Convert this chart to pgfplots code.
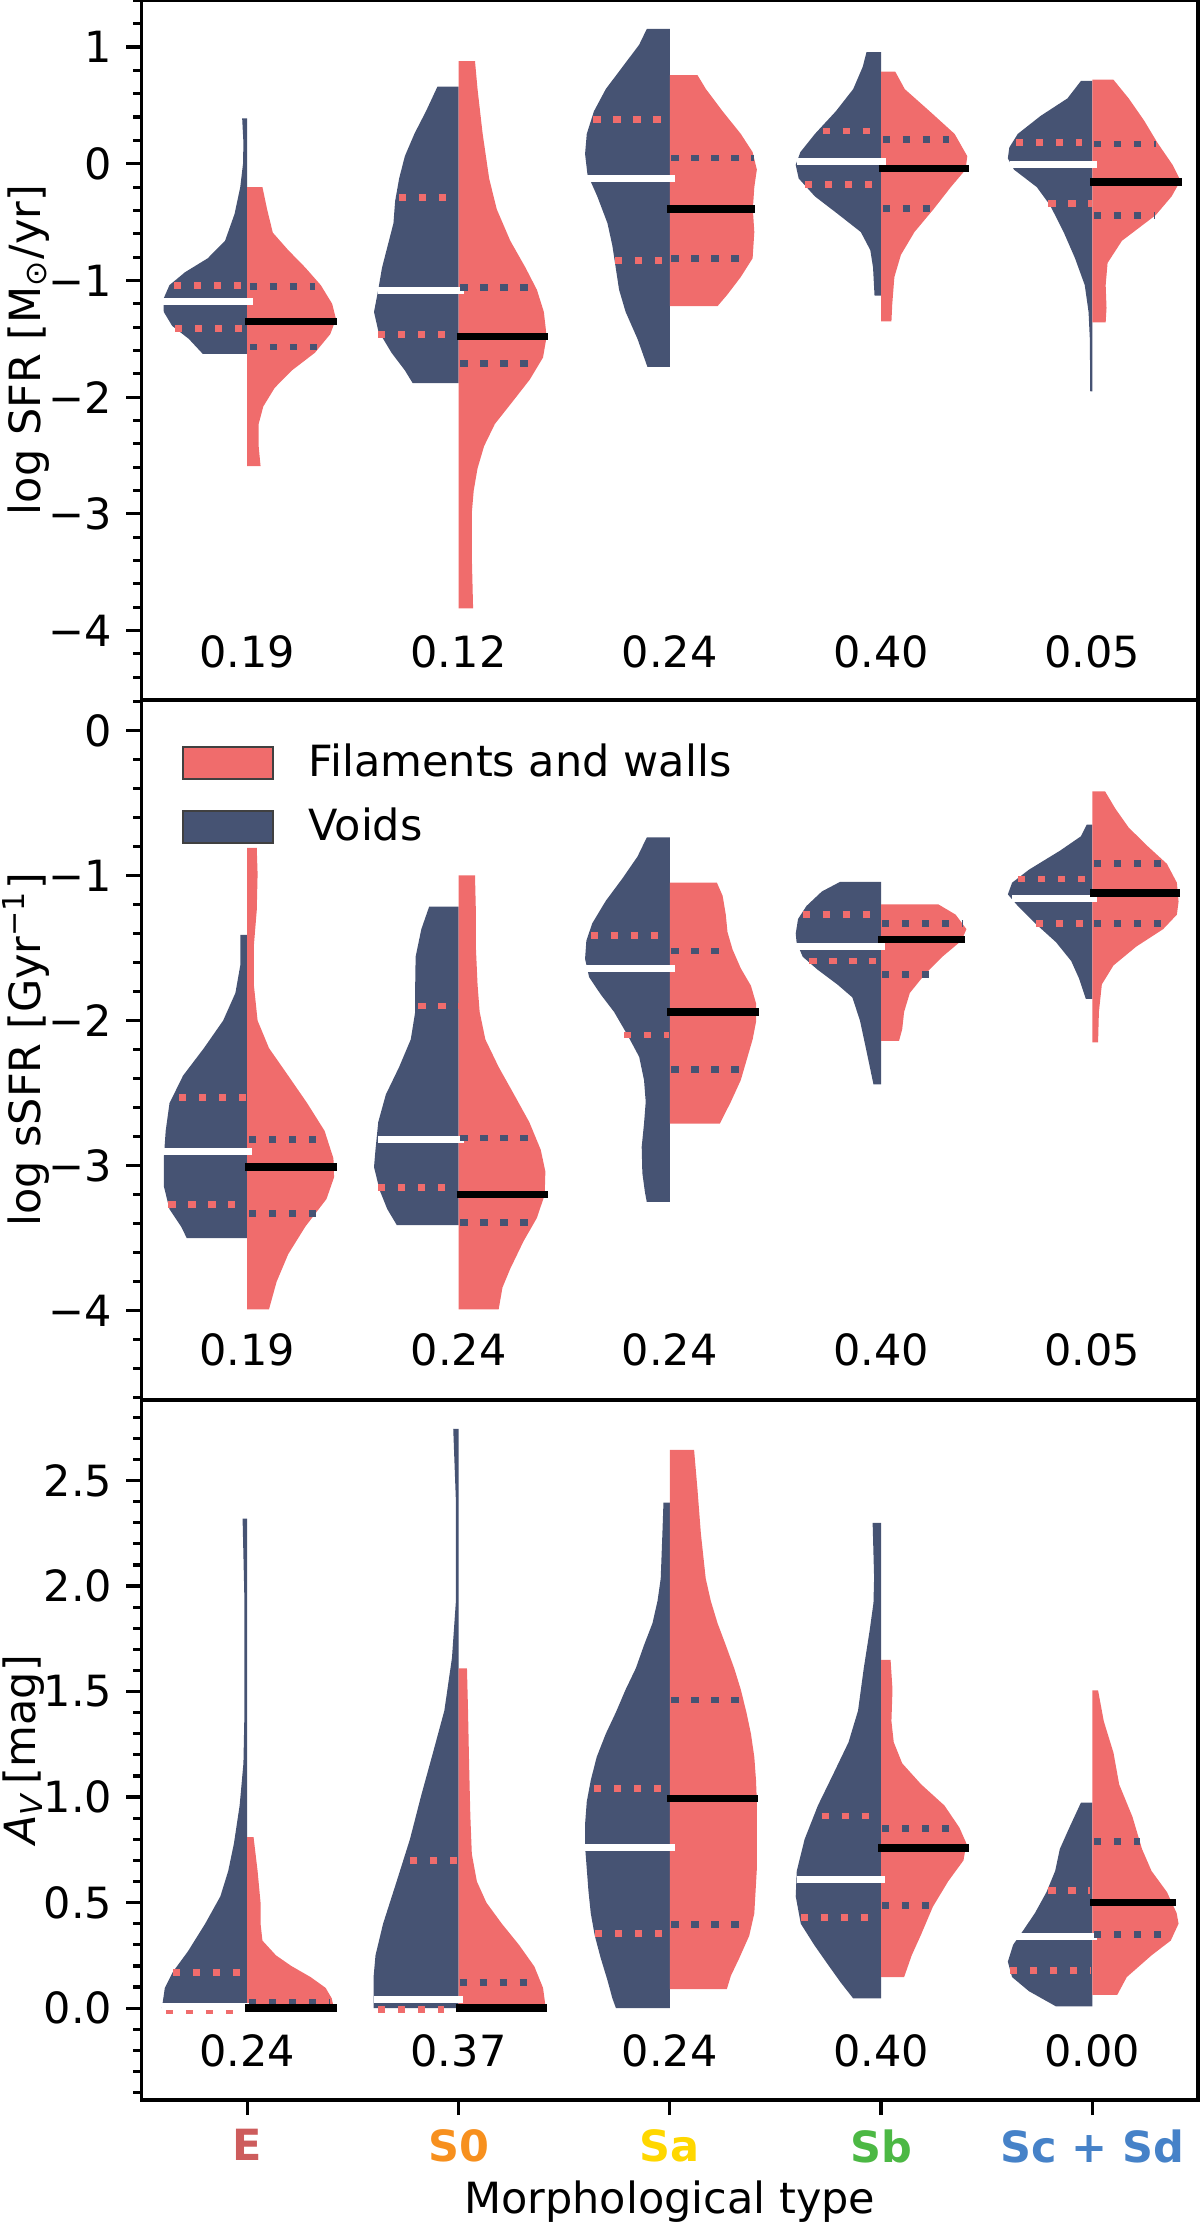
\documentclass[border=0pt]{standalone}
\usepackage{fontspec}
\setmainfont{DejaVu Sans}
\usepackage{pgfplots}
\usepackage{pgfplotstable}
\pgfplotsset{compat=1.18}

\definecolor{voidcol}{HTML}{465373}
\definecolor{filcol}{HTML}{F06C6C}
\definecolor{colE}{HTML}{CD5C5C}
\definecolor{colSO}{HTML}{F7901E}
\definecolor{colSa}{HTML}{FFD700}
\definecolor{colSb}{HTML}{4CB844}
\definecolor{colSc}{HTML}{4682C8}
\newcommand{\fs}{\fontsize{10.75}{12.9}\selectfont}

% ---------- half-violin outlines: y value and half width w ----------
% log SFR
\pgfplotstableread{
y w
0.39 0
0.39 0.024
0.18 0.018
0.00 0.02
-0.20 0.033
-0.43 0.06
-0.66 0.105
-0.81 0.187
-0.93 0.295
-1.04 0.368
-1.16 0.397
-1.27 0.395
-1.39 0.355
-1.50 0.277
-1.63 0.21
-1.63 0
}\sfrEv
\pgfplotstableread{
y w
-0.20 0
-0.20 0.072
-0.39 0.094
-0.59 0.121
-0.74 0.194
-0.89 0.275
-1.04 0.348
-1.20 0.402
-1.33 0.42
-1.46 0.393
-1.62 0.32
-1.77 0.212
-1.92 0.13
-2.08 0.076
-2.23 0.054
-2.42 0.054
-2.59 0.063
-2.59 0
}\sfrEf
\pgfplotstableread{
y w
0.66 0
0.66 0.10
0.45 0.154
0.26 0.208
0.065 0.254
-0.126 0.281
-0.32 0.30
-0.51 0.308
-0.70 0.335
-0.89 0.362
-1.08 0.38
-1.27 0.40
-1.43 0.38
-1.62 0.317
-1.77 0.254
-1.88 0.217
-1.88 0
}\sfrSOv
\pgfplotstableread{
y w
0.88 0
0.88 0.078
0.64 0.09
0.26 0.114
-0.126 0.145
-0.39 0.181
-0.66 0.245
-0.89 0.317
-1.08 0.371
-1.27 0.404
-1.48 0.417
-1.66 0.40
-1.85 0.337
-2.04 0.255
-2.23 0.172
-2.42 0.121
-2.61 0.09
-2.80 0.072
-2.99 0.063
-3.37 0.063
-3.81 0.069
-3.81 0
}\sfrSOf
\pgfplotstableread{
y w
1.155 0
1.155 0.109
1.02 0.145
0.83 0.224
0.64 0.303
0.45 0.359
0.256 0.393
0.084 0.401
-0.088 0.39
-0.28 0.343
-0.51 0.295
-0.70 0.272
-0.89 0.256
-1.08 0.24
-1.27 0.209
-1.50 0.153
-1.74 0.106
-1.74 0
}\sfrSav
\pgfplotstableread{
y w
0.76 0
0.76 0.131
0.64 0.171
0.45 0.25
0.256 0.336
0.10 0.392
-0.05 0.412
-0.20 0.40
-0.39 0.393
-0.585 0.40
-0.81 0.392
-0.97 0.336
-1.12 0.273
-1.22 0.226
-1.22 0
}\sfrSaf
\pgfplotstableread{
y w
0.956 0
0.956 0.069
0.83 0.087
0.64 0.132
0.45 0.214
0.256 0.313
0.10 0.382
-0.01 0.404
-0.126 0.39
-0.28 0.313
-0.43 0.205
-0.585 0.096
-0.74 0.051
-0.89 0.038
-1.13 0.031
-1.13 0
}\sfrSbv
\pgfplotstableread{
y w
0.79 0
0.79 0.067
0.64 0.112
0.45 0.23
0.256 0.348
0.065 0.408
-0.05 0.40
-0.20 0.33
-0.39 0.248
-0.585 0.158
-0.78 0.094
-0.97 0.063
-1.20 0.053
-1.35 0.049
-1.35 0
}\sfrSbf
\pgfplotstableread{
y w
0.71 0
0.71 0.054
0.56 0.118
0.41 0.245
0.256 0.353
0.14 0.393
0.046 0.40
-0.05 0.371
-0.20 0.263
-0.356 0.20
-0.585 0.136
-0.81 0.082
-1.04 0.036
-1.27 0.018
-1.50 0.012
-1.95 0.010
-1.95 0
}\sfrScv
\pgfplotstableread{
y w
0.72 0
0.72 0.10
0.56 0.172
0.37 0.245
0.18 0.308
-0.01 0.38
-0.145 0.417
-0.28 0.375
-0.44 0.30
-0.55 0.22
-0.66 0.14
-0.85 0.072
-1.04 0.063
-1.235 0.067
-1.36 0.063
-1.36 0
}\sfrScf
% log sSFR
\pgfplotstableread{
y w
-1.41 0
-1.41 0.033
-1.62 0.033
-1.81 0.056
-2.00 0.114
-2.19 0.205
-2.38 0.304
-2.57 0.368
-2.76 0.386
-2.95 0.395
-3.14 0.395
-3.30 0.368
-3.42 0.313
-3.50 0.286
-3.50 0
}\ssfrEv
\pgfplotstableread{
y w
-0.81 0
-0.81 0.045
-0.99 0.049
-1.24 0.045
-1.49 0.031
-1.75 0.031
-2.00 0.049
-2.19 0.103
-2.38 0.194
-2.57 0.284
-2.76 0.366
-2.95 0.408
-3.08 0.411
-3.23 0.375
-3.42 0.275
-3.61 0.194
-3.80 0.139
-3.99 0.103
-3.99 0
}\ssfrEf
\pgfplotstableread{
y w
-1.215 0
-1.215 0.139
-1.37 0.176
-1.56 0.203
-1.75 0.205
-1.94 0.205
-2.13 0.226
-2.32 0.281
-2.51 0.344
-2.70 0.38
-2.89 0.393
-3.01 0.40
-3.17 0.373
-3.30 0.337
-3.41 0.292
-3.41 0
}\ssfrSOv
\pgfplotstableread{
y w
-1.00 0
-1.00 0.078
-1.24 0.082
-1.49 0.082
-1.75 0.09
-1.94 0.10
-2.13 0.127
-2.32 0.19
-2.51 0.263
-2.70 0.335
-2.89 0.389
-3.04 0.411
-3.20 0.408
-3.36 0.371
-3.52 0.308
-3.71 0.245
-3.84 0.208
-3.99 0.19
-3.99 0
}\ssfrSOf
\pgfplotstableread{
y w
-0.738 0
-0.738 0.109
-0.87 0.153
-1.02 0.224
-1.175 0.303
-1.33 0.367
-1.45 0.395
-1.575 0.401
-1.70 0.382
-1.82 0.327
-1.94 0.264
-2.10 0.20
-2.25 0.145
-2.41 0.122
-2.56 0.114
-2.71 0.122
-2.87 0.133
-3.05 0.13
-3.18 0.118
-3.25 0.109
-3.25 0
}\ssfrSav
\pgfplotstableread{
y w
-1.05 0
-1.05 0.223
-1.14 0.25
-1.27 0.265
-1.39 0.273
-1.51 0.297
-1.64 0.336
-1.76 0.384
-1.88 0.408
-2.01 0.408
-2.13 0.392
-2.25 0.368
-2.41 0.336
-2.56 0.289
-2.71 0.237
-2.71 0
}\ssfrSaf
\pgfplotstableread{
y w
-1.044 0
-1.044 0.194
-1.11 0.28
-1.21 0.353
-1.30 0.393
-1.40 0.404
-1.46 0.40
-1.56 0.371
-1.65 0.30
-1.75 0.208
-1.84 0.136
-2.00 0.10
-2.19 0.072
-2.44 0.036
-2.44 0
}\ssfrSbv
\pgfplotstableread{
y w
-1.20 0
-1.20 0.272
-1.27 0.353
-1.37 0.404
-1.45 0.38
-1.56 0.29
-1.68 0.208
-1.81 0.136
-1.94 0.109
-2.06 0.10
-2.14 0.085
-2.14 0
}\ssfrSbf
\pgfplotstableread{
y w
-0.65 0
-0.65 0.027
-0.73 0.054
-0.83 0.154
-0.96 0.30
-1.05 0.38
-1.13 0.40
-1.21 0.353
-1.34 0.263
-1.46 0.172
-1.59 0.10
-1.71 0.063
-1.85 0.031
-1.85 0
}\ssfrScv
\pgfplotstableread{
y w
-0.42 0
-0.42 0.06
-0.54 0.109
-0.67 0.172
-0.80 0.263
-0.92 0.353
-1.05 0.40
-1.18 0.408
-1.27 0.40
-1.37 0.335
-1.49 0.208
-1.62 0.10
-1.75 0.045
-1.94 0.031
-2.15 0.027
-2.15 0
}\ssfrScf
% A_V
\pgfplotstableread{
y w
2.32 0
2.32 0.022
1.92 0.013
1.41 0.013
1.16 0.018
0.96 0.036
0.78 0.063
0.65 0.09
0.53 0.127
0.40 0.199
0.27 0.28
0.17 0.353
0.096 0.39
0.0 0.404
0.0 0
}\avEv
\pgfplotstableread{
y w
0.81 0
0.81 0.03
0.65 0.049
0.50 0.063
0.40 0.063
0.32 0.072
0.25 0.136
0.20 0.208
0.147 0.30
0.096 0.371
0.046 0.40
0.0 0.41
0.0 0
}\avEf
\pgfplotstableread{
y w
2.745 0
2.745 0.025
2.42 0.013
1.92 0.013
1.66 0.031
1.41 0.067
1.21 0.121
1.01 0.176
0.80 0.23
0.60 0.293
0.40 0.357
0.25 0.393
0.147 0.402
0.0 0.402
0.0 0
}\avSOv
\pgfplotstableread{
y w
1.61 0
1.61 0.04
1.41 0.045
1.16 0.05
0.91 0.056
0.73 0.063
0.60 0.087
0.50 0.132
0.40 0.205
0.30 0.286
0.197 0.359
0.096 0.40
0.0 0.413
0.0 0
}\avSOf
\pgfplotstableread{
y w
2.395 0
2.395 0.03
2.25 0.035
2.036 0.043
1.93 0.058
1.824 0.082
1.72 0.122
1.61 0.161
1.51 0.209
1.40 0.256
1.30 0.303
1.19 0.346
1.08 0.374
0.978 0.393
0.872 0.401
0.766 0.401
0.66 0.393
0.555 0.385
0.449 0.374
0.343 0.355
0.237 0.327
0.132 0.295
0.047 0.272
0.0 0.255
0.0 0
}\avSav
\pgfplotstableread{
y w
2.645 0
2.645 0.115
2.459 0.131
2.25 0.147
2.036 0.17
1.93 0.194
1.824 0.226
1.72 0.265
1.61 0.305
1.51 0.336
1.40 0.363
1.30 0.384
1.19 0.40
1.08 0.408
0.98 0.412
0.66 0.412
0.449 0.40
0.343 0.376
0.237 0.329
0.153 0.289
0.09 0.27
0.09 0
}\avSaf
\pgfplotstableread{
y w
2.30 0
2.30 0.04
2.04 0.033
1.92 0.036
1.79 0.054
1.61 0.082
1.41 0.109
1.26 0.154
1.11 0.226
0.96 0.299
0.80 0.362
0.65 0.399
0.53 0.404
0.40 0.38
0.30 0.317
0.197 0.245
0.12 0.19
0.046 0.132
0.046 0
}\avSbv
\pgfplotstableread{
y w
1.65 0
1.65 0.045
1.51 0.054
1.36 0.049
1.26 0.06
1.16 0.10
1.06 0.19
0.96 0.30
0.855 0.371
0.78 0.404
0.70 0.39
0.60 0.317
0.48 0.245
0.35 0.19
0.25 0.145
0.147 0.109
0.147 0
}\avSbf
\pgfplotstableread{
y w
0.974 0
0.974 0.054
0.855 0.109
0.754 0.154
0.65 0.176
0.55 0.217
0.45 0.272
0.37 0.326
0.30 0.375
0.22 0.40
0.147 0.38
0.08 0.30
0.008 0.172
0.008 0
}\avScv
\pgfplotstableread{
y w
1.506 0
1.506 0.027
1.36 0.054
1.21 0.10
1.06 0.127
0.906 0.19
0.754 0.235
0.65 0.28
0.55 0.353
0.45 0.399
0.40 0.408
0.32 0.371
0.25 0.28
0.147 0.163
0.063 0.118
0.063 0
}\avScf

% ---------- drawing helpers ----------
% split violin: voids to the left, filaments and walls to the right of position #3
\newcommand{\violin}[3]{%
  \addplot[draw=none, fill=voidcol, forget plot] table[x expr={#3-\thisrow{w}}, y=y]{#1};
  \addplot[draw=none, fill=filcol, forget plot] table[x expr={#3+\thisrow{w}}, y=y]{#2};
}
% quartiles (dotted) and medians (solid): from x=#1 to x=#2 at y=#3
\newcommand{\qv}[3]{\addplot[filcol, line width=1.7pt, dash pattern=on 1.8pt off 3.2pt, forget plot] coordinates {(#1,#3) (#2,#3)};}
\newcommand{\qf}[3]{\addplot[voidcol, line width=1.7pt, dash pattern=on 1.8pt off 3.2pt, forget plot] coordinates {(#1,#3) (#2,#3)};}
\newcommand{\mv}[3]{\addplot[white, line width=1.75pt, forget plot] coordinates {(#1,#3) (#2,#3)};}
\newcommand{\mf}[3]{\addplot[black, line width=1.9pt, forget plot] coordinates {(#1,#3) (#2,#3)};}

\pgfplotsset{
  panel/.style={
    scale only axis, width=264.1pt, height=175pt,
    xmin=-0.5, xmax=4.5,
    axis line style={line width=0.8pt},
    every tick/.style={black, line width=0.8pt},
    major tick length=3.8pt, minor tick length=2.1pt,
    tick align=outside,
    ytick pos=left, xtick pos=bottom,
    tick label style={font=\fs},
    label style={font=\fs},
    ylabel style={at={(axis description cs:-0.096,0.5)}, anchor=base},
  },
}

\begin{document}
\begin{tikzpicture}
\useasboundingbox (0,0) rectangle (300pt,556.75pt);

% ---------------- log SFR ----------------
\begin{axis}[panel, at={(35.4pt,381.75pt)}, anchor=south west,
  ymin=-4.595, ymax=1.4036,
  xtick=\empty,
  ytick={-4,-3,-2,-1,0,1},
  yticklabels={−4,−3,−2,−1,0,1},
  minor ytick={-4.4,-4.2,...,1.3},
  ylabel={log SFR [M\textsubscript{⊙}/yr]},
]
\violin{\sfrEv}{\sfrEf}{0}
\violin{\sfrSOv}{\sfrSOf}{1}
\violin{\sfrSav}{\sfrSaf}{2}
\violin{\sfrSbv}{\sfrSbf}{3}
\violin{\sfrScv}{\sfrScf}{4}
% E
\qv{-0.346}{-0.024}{-1.04} \qv{-0.341}{-0.02}{-1.41} \mv{-0.40}{0.025}{-1.18}
\qf{0.013}{0.321}{-1.055} \qf{0.013}{0.33}{-1.57} \mf{-0.009}{0.424}{-1.35}
% S0
\qv{0.716}{0.946}{-0.29} \qv{0.62}{0.946}{-1.46} \mv{0.62}{1.024}{-1.09}
\qf{1.009}{1.335}{-1.06} \qf{1.009}{1.335}{-1.71} \mf{0.991}{1.422}{-1.48}
% Sa
\qv{1.638}{1.957}{0.38} \qv{1.739}{1.965}{-0.83} \mv{1.61}{2.024}{-0.126}
\qf{2.008}{2.40}{0.05} \qf{2.008}{2.329}{-0.81} \mf{1.989}{2.403}{-0.39}
% Sb
\qv{2.723}{2.949}{0.28} \qv{2.641}{2.958}{-0.176} \mv{2.60}{3.022}{0.02}
\qf{3.009}{3.321}{0.21} \qf{3.009}{3.23}{-0.38} \mf{2.989}{3.415}{-0.04}
% Sc + Sd
\qv{3.638}{3.95}{0.18} \qv{3.792}{4.0}{-0.34} \mv{3.61}{4.024}{-0.01}
\qf{4.009}{4.299}{0.17} \qf{4.009}{4.295}{-0.44} \mf{3.991}{4.422}{-0.157}
\node[font=\fs, anchor=base] at (axis cs:0,-4.315) {0.19};
\node[font=\fs, anchor=base] at (axis cs:1,-4.315) {0.12};
\node[font=\fs, anchor=base] at (axis cs:2,-4.315) {0.24};
\node[font=\fs, anchor=base] at (axis cs:3,-4.315) {0.40};
\node[font=\fs, anchor=base] at (axis cs:4,-4.315) {0.05};
\end{axis}

% ---------------- log sSFR ----------------
\begin{axis}[panel, at={(35.4pt,206.75pt)}, anchor=south west,
  ymin=-4.615, ymax=0.2095,
  xtick=\empty,
  ytick={-4,-3,-2,-1,0},
  yticklabels={−4,−3,−2,−1,0},
  minor ytick={-4.6,-4.4,...,0.25},
  ylabel={log sSFR [Gyr\textsuperscript{−1}]},
  legend style={at={(axis description cs:0,1)}, anchor=north west,
    xshift=9.85pt, yshift=-8.7pt, draw=none, fill=none,
    inner sep=0pt, row sep=2.4pt, font=\fs},
  legend cell align=left,
  legend image code/.code={%
    \draw[#1, draw=black!75, line width=0.5pt] (0pt,-3.95pt) rectangle (22.5pt,3.95pt);
    \path (29.25pt,0pt);},
]
\addlegendimage{fill=filcol}
\addlegendentry{Filaments and walls}
\addlegendimage{fill=voidcol}
\addlegendentry{Voids}
\violin{\ssfrEv}{\ssfrEf}{0}
\violin{\ssfrSOv}{\ssfrSOf}{1}
\violin{\ssfrSav}{\ssfrSaf}{2}
\violin{\ssfrSbv}{\ssfrSbf}{3}
\violin{\ssfrScv}{\ssfrScf}{4}
% E
\qv{-0.322}{-0.005}{-2.53} \qv{-0.373}{-0.06}{-3.27} \mv{-0.395}{0.022}{-2.90}
\qf{0.009}{0.324}{-2.82} \qf{0.009}{0.324}{-3.33} \mf{-0.009}{0.424}{-3.01}
% S0
\qv{0.81}{1.0}{-1.90} \qv{0.62}{0.946}{-3.15} \mv{0.62}{1.024}{-2.82}
\qf{1.009}{1.335}{-2.81} \qf{1.009}{1.335}{-3.39} \mf{0.991}{1.422}{-3.20}
% Sa
\qv{1.626}{1.949}{-1.415} \qv{1.784}{1.997}{-2.10} \mv{1.60}{2.024}{-1.64}
\qf{2.008}{2.234}{-1.52} \qf{2.008}{2.329}{-2.34} \mf{1.989}{2.42}{-1.94}
% Sb
\qv{2.629}{2.946}{-1.27} \qv{2.661}{2.976}{-1.59} \mv{2.60}{3.018}{-1.49}
\qf{3.005}{3.39}{-1.33} \qf{3.005}{3.226}{-1.68} \mf{2.986}{3.399}{-1.44}
% Sc + Sd
\qv{3.647}{3.964}{-1.025} \qv{3.734}{3.991}{-1.33} \mv{3.62}{4.024}{-1.16}
\qf{4.009}{4.326}{-0.92} \qf{4.009}{4.326}{-1.33} \mf{3.991}{4.417}{-1.12}
\node[font=\fs, anchor=base] at (axis cs:0,-4.38) {0.19};
\node[font=\fs, anchor=base] at (axis cs:1,-4.38) {0.24};
\node[font=\fs, anchor=base] at (axis cs:2,-4.38) {0.24};
\node[font=\fs, anchor=base] at (axis cs:3,-4.38) {0.40};
\node[font=\fs, anchor=base] at (axis cs:4,-4.38) {0.05};
\end{axis}

% ---------------- A_V ----------------
\begin{axis}[panel, at={(35.4pt,31.75pt)}, anchor=south west,
  ymin=-0.4355, ymax=2.882,
  xtick={0,1,2,3,4},
  xticklabels={\textcolor{colE}{\textbf{E}},\textcolor{colSO}{\textbf{S0}},\textcolor{colSa}{\textbf{Sa}},\textcolor{colSb}{\textbf{Sb}},\textcolor{colSc}{\textbf{Sc + Sd}}},
  ytick={0,0.5,1,1.5,2,2.5},
  yticklabels={0.0,0.5,1.0,1.5,2.0,2.5},
  minor ytick={-0.4,-0.3,...,2.85},
  ylabel={\textit{A}\textsubscript{\textit{V}}\,[mag]},
  ylabel style={at={(axis description cs:-0.1,0.5)}, anchor=base},
  xlabel={Morphological type},
  xlabel style={at={(axis description cs:0.5,0)}, anchor=base, yshift=-28.3pt},
]
\violin{\avEv}{\avEf}{0}
\violin{\avSOv}{\avSOf}{1}
\violin{\avSav}{\avSaf}{2}
\violin{\avSbv}{\avSbf}{3}
\violin{\avScv}{\avScf}{4}
% E
\qv{-0.386}{-0.06}{-0.012} \qv{-0.35}{-0.03}{0.17} \mv{-0.404}{0.022}{0.008}
\qf{0.009}{0.39}{0.025} \mf{-0.009}{0.424}{0.0}
% S0
\qv{0.62}{0.933}{-0.005} \qv{0.77}{1.0}{0.70} \mv{0.598}{1.02}{0.04}
\qf{1.005}{1.332}{0.12} \mf{0.987}{1.418}{0.0}
% Sa
\qv{1.641}{1.957}{1.04} \qv{1.646}{1.965}{0.354} \mv{1.599}{2.024}{0.76}
\qf{2.008}{2.329}{1.46} \qf{2.008}{2.329}{0.396} \mf{1.989}{2.418}{0.993}
% Sb
\qv{2.719}{2.946}{0.91} \qv{2.62}{2.937}{0.43} \mv{2.601}{3.018}{0.61}
\qf{3.005}{3.32}{0.85} \qf{3.005}{3.226}{0.486} \mf{2.986}{3.417}{0.76}
% Sc + Sd
\qv{3.792}{3.991}{0.557} \qv{3.61}{3.991}{0.18} \mv{3.638}{4.024}{0.34}
\qf{4.009}{4.226}{0.79} \qf{4.009}{4.326}{0.35} \mf{3.991}{4.395}{0.50}
\node[font=\fs, anchor=base] at (axis cs:0,-0.278) {0.24};
\node[font=\fs, anchor=base] at (axis cs:1,-0.278) {0.37};
\node[font=\fs, anchor=base] at (axis cs:2,-0.278) {0.24};
\node[font=\fs, anchor=base] at (axis cs:3,-0.278) {0.40};
\node[font=\fs, anchor=base] at (axis cs:4,-0.278) {0.00};
\end{axis}
\end{tikzpicture}
\end{document}
